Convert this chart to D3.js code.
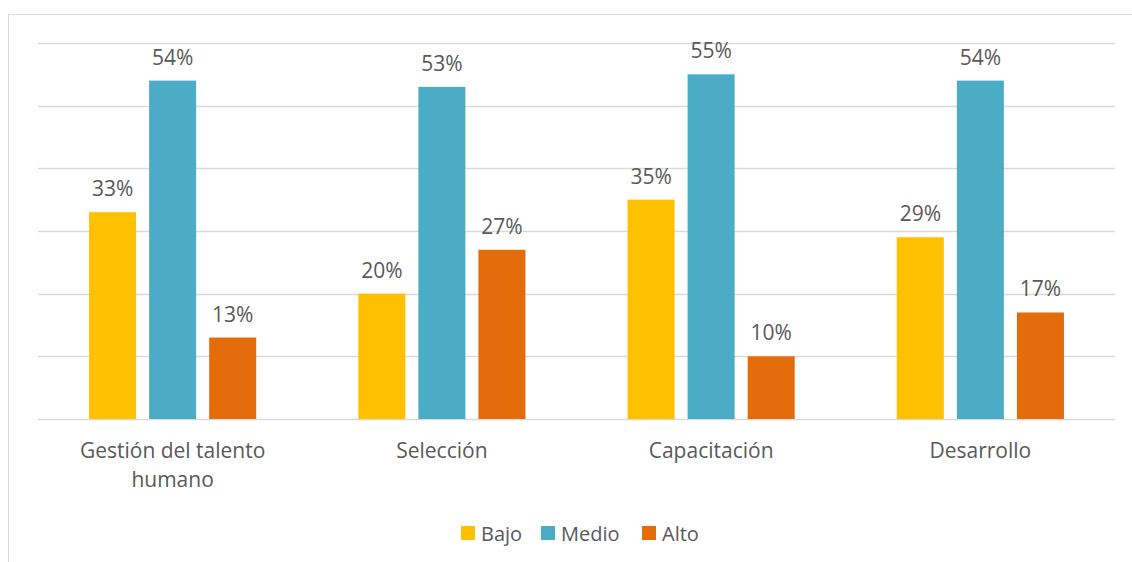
<!DOCTYPE html>
<html>
<head>
<meta charset="utf-8">
<script src="https://cdn.jsdelivr.net/npm/d3@7"></script>
<style>
  body { margin: 0; background: #fff; }
  svg text { font-family: "Open Sans", "Liberation Sans", sans-serif; fill: #595959; }
</style>
</head>
<body>
<div class="chart"></div>
<script>
const categories = ['Gestión del talento|humano', 'Selección', 'Capacitación', 'Desarrollo'];
const series = ['Bajo', 'Medio', 'Alto'];
const bajo = [33, 20, 35, 29];
const medio = [54, 53, 55, 54];
const alto = [13, 27, 10, 17];
const yTicks = [0, 10, 20, 30, 40, 50, 60];
const colors = ['#FFC000', '#4BACC6', '#E46C0A'];

const values = [bajo, medio, alto];
const data = categories.map((c, i) => ({
    cat: c,
    vals: series.map((s, j) => ({ s: s, v: values[j][i] }))
}));

const width = 1132, height = 562;
const svg = d3.select('.chart').append('svg')
    .attr('width', width)
    .attr('height', height);

// chart frame (Excel style)
svg.append('rect')
    .attr('x', 8.5).attr('y', 14.5)
    .attr('width', 1140).attr('height', 570)
    .attr('fill', 'none')
    .attr('stroke', '#d9d9d9');

const x0 = d3.scaleBand()
    .domain(categories)
    .range([38, 1115])
    .padding(0);

const x1 = d3.scaleBand()
    .domain(series)
    .range([0, x0.bandwidth()])
    .paddingInner(0.217)
    .paddingOuter(0.85);

const y = d3.scaleLinear()
    .domain([0, 60])
    .range([419, 43]);

const color = d3.scaleOrdinal().domain(series).range(colors);

// gridlines
svg.append('g')
    .selectAll('line')
    .data(yTicks)
    .enter()
    .append('line')
    .attr('x1', 38).attr('x2', 1115)
    .attr('y1', d => Math.round(y(d)) + 0.5)
    .attr('y2', d => Math.round(y(d)) + 0.5)
    .attr('stroke', '#d9d9d9')
    .attr('stroke-width', 1.3);

const groups = svg.selectAll('.grp')
    .data(data)
    .enter()
    .append('g')
    .attr('class', 'grp')
    .attr('transform', d => `translate(${x0(d.cat)},0)`);

groups.selectAll('rect')
    .data(d => d.vals)
    .enter()
    .append('rect')
    .attr('x', d => x1(d.s))
    .attr('width', x1.bandwidth())
    .attr('y', d => y(d.v))
    .attr('height', d => y(0) - y(d.v))
    .attr('fill', d => color(d.s));

groups.selectAll('.val')
    .data(d => d.vals)
    .enter()
    .append('text')
    .attr('class', 'val')
    .attr('x', d => x1(d.s) + x1.bandwidth() / 2)
    .attr('y', d => y(d.v) - 16)
    .attr('text-anchor', 'middle')
    .style('font-size', '21px')
    .text(d => d.v + '%');

// category labels (may wrap)
const catText = svg.append('g')
    .selectAll('text')
    .data(categories)
    .enter()
    .append('text')
    .attr('x', d => x0(d) + x0.bandwidth() / 2)
    .attr('y', 458)
    .attr('text-anchor', 'middle')
    .style('font-size', '21px');

catText.selectAll('tspan')
    .data(d => d.split('|').map(t => ({ t: t, x: x0(d) + x0.bandwidth() / 2 })))
    .enter()
    .append('tspan')
    .attr('x', d => d.x)
    .attr('dy', (d, i) => i === 0 ? 0 : 29)
    .text(d => d.t);

// legend
const legendX = [461, 541, 642];
const legend = svg.append('g');
legend.selectAll('rect')
    .data(series)
    .enter()
    .append('rect')
    .attr('x', (d, i) => legendX[i])
    .attr('y', 526)
    .attr('width', 14)
    .attr('height', 14)
    .attr('fill', d => color(d));

legend.selectAll('text')
    .data(series)
    .enter()
    .append('text')
    .attr('x', (d, i) => legendX[i] + 20)
    .attr('y', 541)
    .style('font-size', '20px')
    .text(d => d);
</script>
</body>
</html>
